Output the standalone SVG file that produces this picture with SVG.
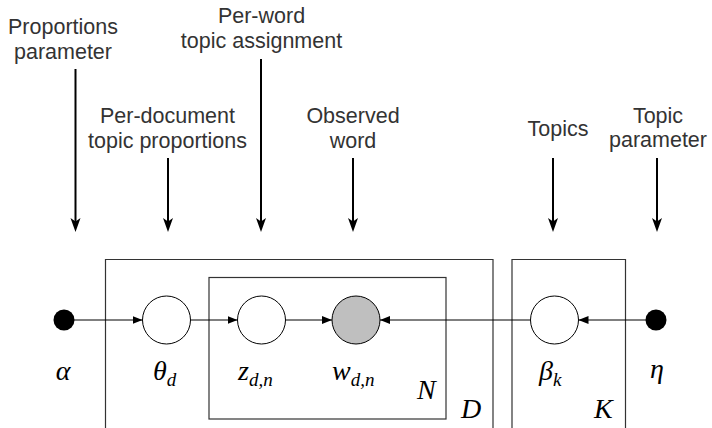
<svg xmlns="http://www.w3.org/2000/svg" width="712" height="428" viewBox="0 0 712 428">
<style>
.lbl{font-family:"Liberation Sans",Arial,sans-serif;font-size:21.5px;fill:#333;text-anchor:middle}
.m{font-family:"Liberation Serif","Times New Roman",serif;font-style:italic;font-size:28px;fill:#000}
.s{font-size:19px}
.ptr{stroke:#000;stroke-width:2;fill:none}
.edge{stroke:#000;stroke-width:1;fill:none}
.plate{stroke:#333;stroke-width:1.2;fill:none}
.node{stroke:#000;stroke-width:1;fill:#fff}
.obs{fill:#bfbfbf}
.dot{fill:#000}
</style>
<defs>
<marker id="big" markerUnits="userSpaceOnUse" markerWidth="14" markerHeight="11" viewBox="0 0 14 11" refX="10" refY="5.5" orient="auto">
<path d="M0,0.5 L14,5.5 L0,10.5 L3.5,5.5 z" fill="#000"/>
</marker>
<marker id="sm" markerUnits="userSpaceOnUse" markerWidth="10" markerHeight="8" viewBox="0 0 10 8" refX="10" refY="4" orient="auto">
<path d="M0,0 L10,4 L0,8 z" fill="#000"/>
</marker>
</defs>

<g id="plates">
<path class="plate" d="M105.5,430 V259.5 H493 V430"/>
<path class="plate" d="M512,430 V259.5 H625.5 V430"/>
<rect class="plate" x="209" y="277.5" width="237" height="141.5"/>
<text class="m" x="417" y="399">N</text>
<text class="m" x="461" y="418">D</text>
<text class="m" x="594" y="418">K</text>
</g>

<g id="connectors">
<line class="edge" x1="64" y1="320" x2="142.5" y2="320" marker-end="url(#sm)"/>
<line class="edge" x1="190.5" y1="320" x2="237.5" y2="320" marker-end="url(#sm)"/>
<line class="edge" x1="285.5" y1="320" x2="332" y2="320" marker-end="url(#sm)"/>
<line class="edge" x1="530.5" y1="320" x2="380" y2="320" marker-end="url(#sm)"/>
<line class="edge" x1="656" y1="320" x2="578.5" y2="320" marker-end="url(#sm)"/>
<line class="ptr" x1="75.5" y1="69" x2="75.5" y2="228" marker-end="url(#big)"/>
<line class="ptr" x1="168" y1="158" x2="168" y2="228" marker-end="url(#big)"/>
<line class="ptr" x1="261" y1="59" x2="261" y2="228" marker-end="url(#big)"/>
<line class="ptr" x1="353" y1="158" x2="353" y2="228" marker-end="url(#big)"/>
<line class="ptr" x1="553" y1="158" x2="553" y2="228" marker-end="url(#big)"/>
<line class="ptr" x1="657" y1="158" x2="657" y2="228" marker-end="url(#big)"/>
</g>

<g id="alpha">
<circle class="dot" cx="64" cy="320" r="10.5"/>
<text class="m" x="63" y="380" text-anchor="middle">α</text>
</g>
<g id="theta">
<circle class="node" cx="166.5" cy="320" r="24"/>
<text class="m" x="153" y="380">θ<tspan class="s" dy="6">d</tspan></text>
</g>
<g id="z">
<circle class="node" cx="261.5" cy="320" r="24"/>
<text class="m" x="238" y="380">z<tspan class="s" dy="6">d,n</tspan></text>
</g>
<g id="w">
<circle class="node obs" cx="356" cy="320" r="24"/>
<text class="m" x="332" y="380">w<tspan class="s" dy="6">d,n</tspan></text>
</g>
<g id="beta">
<circle class="node" cx="554.5" cy="320" r="24"/>
<text class="m" x="539" y="380">β<tspan class="s" dy="6">k</tspan></text>
</g>
<g id="eta">
<circle class="dot" cx="656" cy="320" r="10.5"/>
<text class="m" x="657" y="378" text-anchor="middle">η</text>
</g>

<g id="labels">
<text class="lbl" x="63" y="34">Proportions</text>
<text class="lbl" x="63" y="59">parameter</text>
<text class="lbl" x="261.5" y="23">Per-word</text>
<text class="lbl" x="261.5" y="48">topic assignment</text>
<text class="lbl" x="167.5" y="123">Per-document</text>
<text class="lbl" x="167.5" y="148">topic proportions</text>
<text class="lbl" x="353" y="123">Observed</text>
<text class="lbl" x="353" y="148">word</text>
<text class="lbl" x="558" y="136">Topics</text>
<text class="lbl" x="658" y="123">Topic</text>
<text class="lbl" x="658" y="147">parameter</text>
</g>
</svg>
